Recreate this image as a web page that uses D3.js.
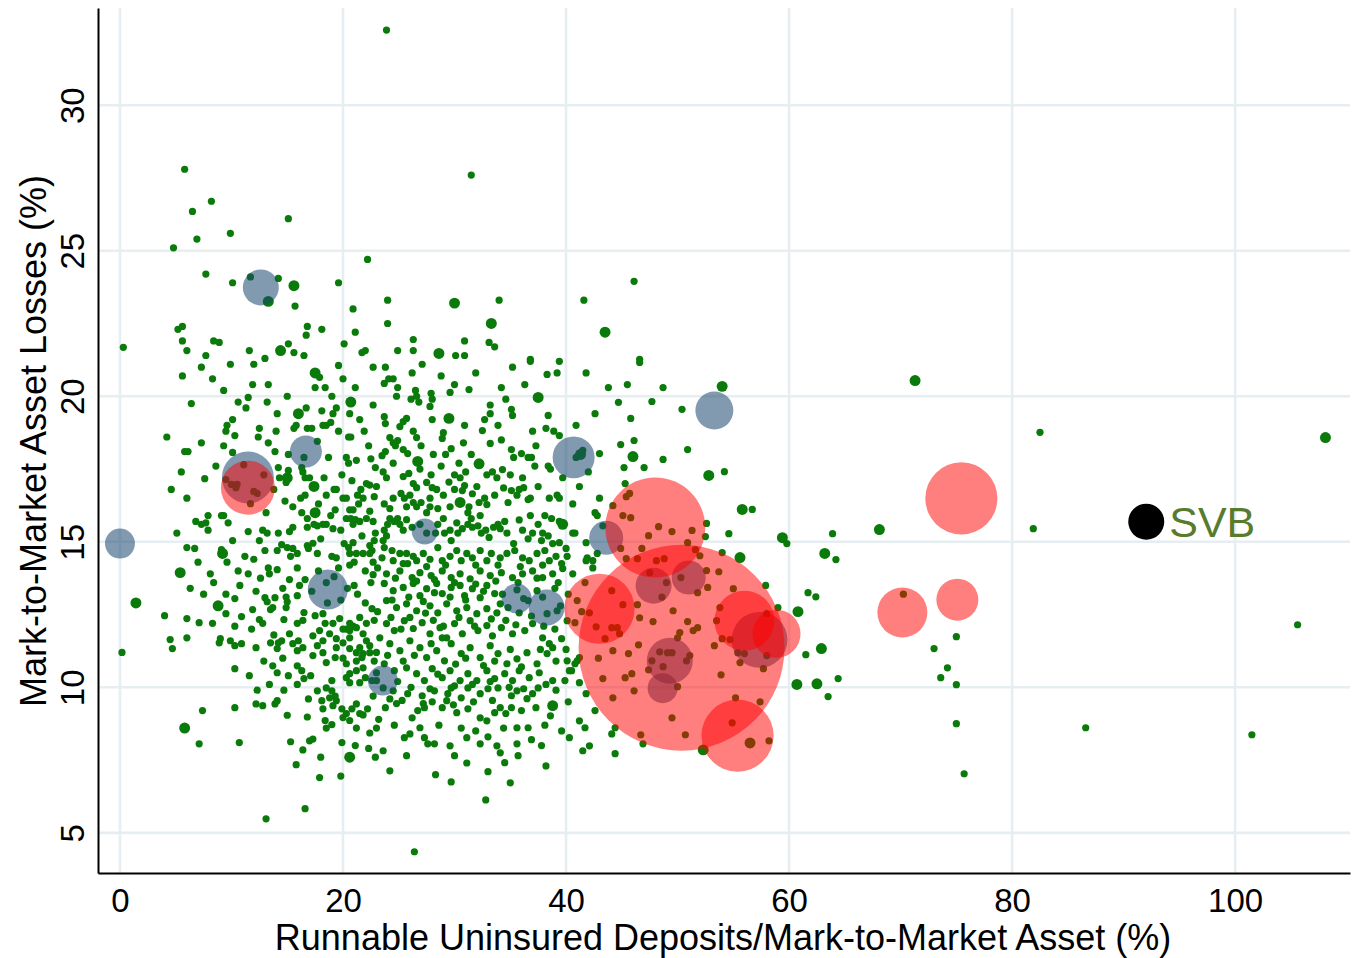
<!DOCTYPE html>
<html>
<head>
<meta charset="utf-8">
<script src="https://cdn.jsdelivr.net/npm/d3@7"></script>
<style>
  body { margin: 0; background: #fff; }
  text { font-family: "Liberation Sans", Arial, Helvetica, sans-serif; }
</style>
</head>
<body>
<svg id="chart" width="1365" height="958"></svg>
<script>
// Axis ticks
const xTicks = [0, 20, 40, 60, 80, 100];
const yTicks = [5, 10, 15, 20, 25, 30];

// Banks: [uninsured deposits / MTM assets (%), MTM asset losses (%)]
const green = [
  [5.8,27.8],[8.2,26.7],[6.5,26.35],[15.1,26.1],[6.9,25.4],[9.9,25.6],[4.8,25.1],[22.2,24.7],[7.7,24.2],[10.1,23.9],
  [11.7,24.1],[14.2,24.05],[15.7,23.1],[19.6,23.9],[20.9,23.0],[21.1,22.2],[20.1,21.8],[21.7,21.5],[22.0,21.57],[16.8,22.4],
  [16.7,22.1],[18.1,22.3],[5.2,22.3],[5.6,22.4],[5.6,21.9],[6.0,21.57],[8.4,21.9],[8.9,21.85],[7.7,21.4],[11.6,21.57],
  [13.0,21.3],[15.1,21.8],[15.6,21.5],[16.5,21.4],[23.9,32.58],[0.3,21.68],[13.1,5.48],[26.4,4.35],[32.8,6.13],
  [31.5,27.6],[24.0,23.3],[34.0,23.3],[24.0,22.5],[26.3,21.95],[30.9,21.9],[33.1,21.85],[33.6,21.7],[24.9,21.57],[26.3,21.57],
  [30.1,21.4],[30.9,21.4],[36.8,21.27],[39.4,21.2],[41.6,23.3],[46.1,23.95],[46.6,21.27],
  [7.3,21.0],[5.6,20.7],[12.0,21.1],[9.3,20.2],[13.3,20.4],[11.5,19.96],[10.6,19.8],[11.3,19.6],[15.0,20.0],[6.4,19.75],
  [14.1,19.4],[16.7,19.6],[17.9,20.65],[17.5,20.3],[18.4,20.3],[19.6,21.06],[18.1,19.5],[19.1,19.4],[19.4,19.6],[21.1,20.3],
  [20.6,19.4],[22.7,21.0],[22.7,19.7],[10.1,19.2],[9.6,19.0],[9.5,18.8],[10.3,18.65],[12.5,18.9],[12.4,18.6],[15.6,18.9],
  [16.8,18.9],[17.2,18.9],[18.2,19.0],[18.5,19.0],[18.9,19.1],[19.6,18.8],[20.5,18.6],[20.7,18.6],[17.7,18.45],[16.5,17.9],
  [4.2,18.6],[5.8,18.1],[6.1,18.1],[7.3,18.4],[9.3,18.3],[10.1,18.07],[13.3,18.4],[13.9,18.1],[15.1,18.0],[18.7,17.9],
  [20.3,17.9],[20.5,17.7],[21.2,17.8],[22.5,17.85],[22.9,17.55],[14.2,17.55],[15.1,17.45],[16.3,17.55],[16.4,17.4],[14.3,17.2],
  [16.6,17.2],[17.0,17.2],[14.9,17.04],[16.2,16.5],[16.6,16.6],[19.2,16.8],[19.4,16.8],[18.5,16.6],[20.0,16.5],[20.3,16.5],
  [21.3,16.6],[21.8,16.5],[20.6,16.1],[20.9,16.1],[21.4,16.3],[21.1,15.76],[21.5,15.7],[22.1,15.8],[22.4,16.05],[22.7,15.7],
  [22.1,17.0],[22.4,16.95],[22.8,16.55],
  [11.1,17.65],[9.5,17.14],[10.0,16.97],[10.5,16.97],[10.4,16.86],[12.0,16.73],[12.3,16.66],[11.7,16.31],
  [7.6,17.17],[6.0,16.5],[7.9,15.9],[9.1,15.9],[9.3,15.9],[6.8,15.7],[7.3,15.6],[7.7,15.65],[7.9,15.4],[9.7,15.65],
  [11.5,15.35],[12.8,15.4],[13.2,15.3],[14.8,16.4],[15.5,16.2],[16.3,16.0],[16.8,15.8],[17.4,15.6],[17.7,15.55],[18.2,15.6],
  [18.5,15.6],[19.1,15.45],[20.3,15.8],[20.7,15.8],[20.9,15.6],[15.5,15.5],[16.8,15.5],[14.2,15.3],[15.2,15.35],[6.0,14.8],
  [6.7,14.77],[9.1,14.73],[10.1,15.04],[11.2,14.5],[12.5,15.04],[14.1,14.7],[14.5,14.9],[15.0,14.8],[15.5,14.77],[15.9,14.6],
  [16.8,14.87],[16.9,14.77],[9.6,14.3],[13.3,14.1],[13.4,13.9],[14.1,14.04],[15.3,14.5],[15.9,14.1],[17.7,14.6],[19.0,14.5],
  [19.4,14.45],[20.1,14.94],[20.5,14.8],[20.9,14.97],[20.6,14.6],[21.2,14.6],[21.8,14.6],[22.4,14.87],[22.6,14.7],[22.8,15.04],
  [22.4,14.6],[22.7,14.3],[20.6,14.2],[22.0,14.0],[22.7,13.87],
  [23.8,21.0],[26.2,20.8],[24.1,20.6],[24.5,20.6],[23.7,20.44],[24.9,20.3],[26.5,20.2],[26.6,20.0],[27.9,20.1],[28.0,19.9],
  [29.6,20.13],[30.0,20.4],[31.3,20.23],[34.2,20.3],[36.3,20.4],[36.8,21.2],[38.3,20.75],[39.2,20.8],[41.8,20.8],[24.8,20.0],
  [26.1,19.9],[26.8,19.8],[27.8,19.65],[33.2,19.7],[33.2,19.4],[35.1,19.55],[35.2,19.34],[38.4,19.34],[23.8,19.06],[23.7,19.3],
  [25.4,19.13],[25.7,19.24],[25.1,18.96],[28.0,19.2],[33.9,19.0],[38.2,18.9],[38.9,18.8],[39.4,18.65],[24.2,18.58],[24.5,18.4],
  [24.7,18.3],[24.9,18.48],[26.3,18.8],[26.6,18.58],[29.0,18.75],[28.9,18.55],[32.5,18.82],[33.2,18.38],[29.7,18.2],[25.4,18.17],
  [25.8,18.03],[23.8,18.1],[23.5,17.96],[35.1,18.17],[35.3,17.9],[36.0,18.03],[36.6,17.9],[36.9,17.9],[38.4,17.6],[38.6,17.5],
  [39.7,17.2],[43.0,18.03],[24.5,17.7],[30.4,17.7],[30.0,17.3],[30.5,17.2],[32.9,17.3],[33.8,17.2],[33.4,17.4],[34.3,17.48],
  [25.4,17.24],[25.9,17.35],[23.6,17.4],[23.9,17.2],[26.3,17.0],[26.6,16.86],[27.5,17.04],[28.0,16.86],[28.4,16.8],[30.9,16.93],
  [30.7,16.76],[32.0,16.9],[35.1,16.76],[35.8,16.8],[36.2,16.86],[35.6,16.6],[38.5,16.5],[39.2,16.6],[39.4,16.5],[43.0,16.5],
  [24.5,16.5],[25.2,16.66],[23.7,16.3],[24.2,16.14],[25.5,16.5],[26.3,16.35],[25.7,16.2],[26.6,16.2],[27.8,16.5],[27.8,16.2],
  [27.5,16.0],[28.5,16.14],[29.6,16.2],[31.3,16.2],[32.2,16.35],[32.7,16.5],[32.9,16.28],[31.2,16.0],[31.5,15.8],[32.3,15.9],
  [34.8,16.35],[36.8,15.9],[38.1,15.9],[38.7,15.8],[39.4,15.7],[40.6,15.3],[40.8,15.3],[42.8,15.9],[43.3,15.55],[24.2,15.8],
  [24.6,15.7],[24.9,15.8],[25.1,15.6],[25.7,15.76],[26.2,15.5],[25.4,15.4],[23.7,15.4],[23.9,15.2],[23.6,15.04],[28.5,15.6],
  [28.3,15.3],[29.1,15.3],[29.6,15.4],[29.7,15.04],[30.3,15.3],[30.7,15.45],[31.2,15.6],[31.6,15.5],[32.1,15.55],[32.4,15.3],
  [32.8,15.4],[33.5,15.5],[33.9,15.6],[34.1,15.45],[34.7,15.3],[35.3,14.94],[36.1,15.4],[37.0,15.3],[37.8,15.04],[37.9,15.3],
  [38.4,15.2],[38.8,14.94],[39.4,14.97],[40.0,14.77],[41.8,14.97],[41.9,14.45],[42.4,14.35],[42.8,14.6],[23.7,14.8],[24.4,14.7],
  [23.5,14.45],[24.5,14.35],[25.1,14.6],[25.7,14.6],[26.3,14.5],[25.8,14.25],[26.6,14.35],[27.2,14.6],[27.8,14.4],[28.5,14.8],
  [28.9,14.35],[29.6,14.5],[30.2,14.7],[30.6,14.35],[31.1,14.6],[31.6,14.45],[32.3,14.7],[32.9,14.35],[33.3,14.6],[34.1,14.45],
  [34.7,14.6],[35.4,14.7],[36.1,14.45],[36.7,14.35],[37.4,14.6],[38.1,14.7],[38.5,14.35],[39.6,14.25],[40.1,14.5],[23.9,13.9],
  [25.1,14.0],[26.2,13.77],[26.9,13.94],[27.9,13.84],[28.9,14.0],[29.7,13.77],[30.5,13.9],[31.4,13.73],[32.3,14.0],[33.2,13.84],
  [34.2,13.94],[35.2,13.77],[36.1,13.9],[37.0,14.0],[37.9,13.77],[38.8,13.9],[39.7,14.08],[40.6,13.9],[41.8,14.35],[42.4,14.1],
  [41.2,18.03],[41.5,18.14],[40.9,17.9],
  [44.7,19.79],[44.9,18.34],[46.1,18.48],[45.2,17.55],[47.0,17.55],[45.3,17.0],[45.4,16.55],[45.7,16.66],[44.2,16.24],[45.1,15.9],
  [45.8,15.83],[48.3,15.52],[49.5,15.35],[47.4,15.21],[44.9,14.77],[46.8,14.77],[51.3,15.39],[50.9,14.97],[51.6,14.73],[52.0,14.52],
  [52.6,14.01],[53.7,13.97],[45.4,14.42],[46.4,14.42],[48.8,14.42],[48.1,14.35],[46.6,21.16],[45.5,20.4],[48.7,20.3],[47.7,19.82],
  [50.4,19.55],[45.8,19.24],[50.9,18.17],[48.7,17.83],[54.2,17.41],[56.7,16.11],[52.6,15.63],[54.6,15.28],[59.8,14.94],[63.9,15.28],
  [64.2,14.39],[54.0,14.63],[52.5,15.18],
  [61.7,13.25],[62.4,13.11],[61.5,11.12],[64.4,10.3],[63.5,9.68],[59.0,12.74],[44.4,8.61],[44.1,8.4],[46.9,8.06],[44.4,7.72],
  [45.1,12.84],[46.4,12.84],[46.6,12.39],[47.8,12.26],[49.6,12.63],[50.9,12.26],[51.4,11.95],[51.8,12.05],[50.0,11.7],[50.2,11.88],
  [46.5,11.46],[45.6,11.16],[44.2,11.26],[48.4,11.22],[49.1,11.19],[49.5,11.19],[50.8,10.91],[51.1,11.09],[47.7,10.91],[47.4,10.6],
  [48.7,10.71],[45.9,10.47],[45.3,10.33],[50.0,10.02],[46.1,9.88],[44.2,9.64],[53.9,10.43],[53.3,11.43],[54.0,11.67],[54.7,11.64],
  [55.4,11.19],[56.0,11.16],[55.6,10.85],[57.7,10.64],[58.0,11.09],[55.2,9.64],[57.4,9.5],[49.5,8.95],[50.7,8.37],[46.7,8.37],
  [54.9,8.78],[58.2,8.16],[53.8,12.74],[53.5,12.29],[55.0,13.39],[52.7,13.43],[57.9,13.5],[58.0,12.53],[44.1,12.05],[44.6,12.05],
  [44.8,11.84],[41.0,12.98],[42.1,12.56],[42.7,12.08],[44.1,13.32],[41.7,13.6],[40.8,12.22],[43.5,11.67],[47.5,13.94],[49.0,13.6],
  [50.3,13.77],[51.8,13.25],[48.6,13.1],
  [9.5,13.2],[10.3,13.05],[10.75,13.5],[12.2,13.3],[13.0,13.08],[13.2,12.94],[13.9,13.08],[14.9,13.1],[15.0,12.94],[15.9,13.15],
  [13.5,12.67],[13.7,12.74],[14.9,12.74],[4.0,12.46],[6.0,12.36],[7.1,12.22],[8.3,12.2],[9.5,12.53],[10.9,12.43],[11.9,12.67],
  [12.5,12.33],[12.8,12.2],[14.7,12.33],[15.9,12.2],[16.4,12.3],[16.5,12.57],[17.5,12.46],[18.2,12.53],[18.4,12.2],[19.1,12.2],
  [19.7,12.36],[20.6,12.2],[20.9,12.1],[20.3,12.0],[21.5,12.4],[22.1,12.2],[22.8,12.3],[4.5,11.64],[4.7,11.33],[6.0,11.7],
  [9.0,11.67],[8.9,11.53],[9.9,11.6],[10.3,11.43],[10.9,11.5],[12.2,11.36],[13.5,11.53],[14.1,11.33],[14.2,11.53],[14.5,11.6],
  [14.6,11.0],[15.2,11.84],[15.5,11.5],[15.9,11.26],[16.4,11.36],[16.0,11.6],[10.3,10.64],[13.7,10.74],[14.1,10.5],[15.9,10.74],
  [16.3,10.57],[16.5,10.3],[15.9,10.1],[17.3,11.77],[17.7,11.43],[18.2,11.19],[17.3,11.09],[18.5,10.85],[19.4,11.36],[20.0,11.0],
  [20.6,11.33],[21.2,10.9],[21.8,11.16],[22.4,11.43],[22.8,10.9],[21.8,10.67],[21.2,10.57],[20.3,10.33],[20.6,10.16],[21.5,10.16],
  [19.0,10.23],[19.0,9.88],[19.3,9.7],[18.8,9.64],[19.4,9.54],[19.1,9.37],[18.5,9.98],[17.7,9.88],[18.1,9.54],[18.2,9.26],
  [19.9,9.26],[20.3,9.1],[20.8,9.26],[21.2,9.43],[21.5,9.1],[22.2,9.26],[22.7,9.7],[23.0,10.23],[10.3,9.3],[12.2,9.43],
  [12.8,9.37],[13.9,9.43],[14.1,9.54],[7.4,9.2],[7.1,8.06],[10.7,8.1],[15.0,9.04],[16.8,8.98],[15.3,8.13],[17.0,8.16],
  [17.3,8.22],[16.4,7.85],[15.8,7.34],[18.4,8.86],[18.5,8.6],[19.0,8.72],[20.0,8.96],[20.6,8.86],[21.8,9.05],[22.4,8.43],
  [23.0,8.6],[21.2,8.6],[19.9,8.1],[19.8,6.95],[22.9,7.6],[16.6,5.83],[20.0,12.0],[20.6,11.95],[21.2,12.05],[21.8,11.84],
  [22.1,11.6],[21.5,11.36],[22.4,11.19],[21.7,11.02],[20.6,11.7],[20.0,11.53],[19.4,11.67],[18.8,11.84],[17.9,11.95],[18.2,11.6],
  [19.3,11.02],[20.3,10.81],[21.2,11.19],[20.6,10.47],[22.0,10.33],[22.6,10.23],[23.0,10.5],
  [23.7,13.57],[24.5,13.32],[25.4,13.43],[26.3,13.57],[26.9,13.15],[27.5,13.39],[28.4,13.57],[28.9,13.22],[29.7,13.43],[30.5,13.5],
  [30.9,13.15],[31.6,13.39],[32.3,13.08],[32.9,13.5],[33.6,13.22],[34.1,12.87],[23.9,12.98],[24.8,12.74],[25.7,12.87],[26.6,12.63],
  [27.8,12.8],[28.5,12.56],[29.3,12.87],[30.2,12.63],[31.1,12.74],[32.0,12.53],[32.9,12.7],[33.8,12.56],[34.8,12.74],[35.8,12.56],
  [36.6,12.98],[37.4,13.32],[38.3,12.53],[39.2,12.63],[40.1,12.29],
  [23.9,12.19],[24.6,11.95],[25.5,12.29],[26.3,12.02],[27.1,12.22],[27.8,11.84],[28.7,12.05],[29.3,11.7],[30.0,12.19],[30.7,11.84],
  [31.4,12.29],[32.1,11.95],[32.9,12.12],[33.4,11.77],[34.2,12.05],[35.2,11.84],[36.3,11.95],[37.0,12.19],[37.9,11.7],[38.8,11.36],
  [39.6,11.67],[24.2,11.5],[25.1,11.26],[26.0,11.6],[26.9,11.36],[27.5,11.02],[28.4,11.26],[29.1,10.91],[29.7,11.5],[30.6,11.16],
  [31.4,11.36],[32.3,11.02],[33.2,11.43],[33.9,11.16],[34.7,10.81],[35.6,10.98],[36.5,11.19],[37.4,10.81],[38.3,11.16],[40.8,10.81],
  [41.2,11.02],[23.7,10.81],[24.6,10.57],[25.7,10.67],[26.6,10.47],[27.3,10.23],[28.0,10.64],[28.9,10.33],[29.6,10.57],[30.5,10.23],
  [31.2,10.47],[32.0,10.23],[32.9,10.57],[33.6,10.3],[34.5,10.47],[35.2,10.23],[35.8,10.57],[36.7,10.33],[38.8,10.23],[39.9,10.23],
  [40.3,10.57],[23.6,9.98],[24.5,9.88],[25.8,9.78],[27.1,9.71],[27.2,9.44],[28.2,9.88],[29.4,9.78],[29.7,9.98],[30.6,9.64],
  [31.2,9.98],[32.3,9.78],[33.0,9.95],[33.9,9.98],[35.1,9.71],[35.6,9.88],[36.5,9.61],[37.0,9.78],[37.5,9.98],[38.6,9.02],
  [23.8,9.3],[24.8,9.44],[26.2,8.95],[27.3,9.3],[28.9,9.3],[29.3,9.54],[30.2,9.13],[31.2,9.26],[32.3,8.95],[32.9,8.85],
  [33.6,9.13],[34.1,9.3],[35.1,9.3],[35.6,8.61],[36.6,8.61],[26.9,8.61],[27.3,8.27],[27.6,8.06],[28.2,8.06],[29.6,7.99],
  [30.0,7.65],[31.1,8.27],[32.3,8.06],[33.8,7.99],[34.1,7.75],[35.6,8.06],[35.7,7.65],[25.5,8.27],[25.7,7.65],[24.2,7.13],
  [29.7,6.75],[35.0,6.72],[23.6,7.82],[34.5,7.41],[40.3,8.27],[41.2,8.85],[41.7,8.61],[41.5,7.82],[42.1,7.99],[40.5,10.57],
  [40.1,10.91],[41.0,10.91],[38.5,11.5],[41.8,9.78],[41.2,10.16],
  [82.5,18.76],[81.9,15.45],[70.25,13.2],[105.6,12.15],[75.0,11.74],[73.0,11.33],[74.2,10.67],[73.6,10.33],[75.0,10.09],[75.0,8.75],
  [75.7,7.03],[86.6,8.61],[101.5,8.37],[0.18,11.2],
  [21.3,13.2],[22.5,13.6],[23.1,12.6],[22.0,12.9],[21.0,13.5],[19.8,13.0],[18.6,12.9],[17.2,13.3],[16.6,13.7],[17.8,14.0],
  [19.2,13.8],[20.4,13.4],[23.3,11.7],[23.0,11.2],[22.6,12.7],[24.3,12.4],[25.2,12.0],[26.0,12.4],[27.4,12.55],[28.1,12.3],
  [29.0,12.1],[30.4,12.4],[31.8,12.1],[33.3,12.35],[34.6,12.3],[35.5,12.15],[36.9,12.45],[38.0,12.1],[39.0,12.0],[24.0,11.1],
  [25.4,10.9],[26.4,11.1],[27.9,11.5],[28.9,11.7],[30.1,10.8],[31.0,11.0],[32.6,10.75],[33.6,10.9],[35.0,11.3],[36.0,10.7],
  [37.7,11.3],[39.1,10.9],[40.0,11.3],[24.9,10.2],[26.1,10.0],[27.8,9.95],[28.5,10.45],[30.0,10.05],[31.6,10.1],[33.2,10.2],
  [34.9,10.0],[36.2,9.95],[37.6,10.5],[38.2,10.1],[24.2,9.6],[25.3,9.55],[26.7,9.2],[28.0,9.5],[29.9,9.4],[31.7,9.5],
  [33.4,9.55],[34.6,9.1],[36.0,9.2],[37.3,9.3],[38.1,8.7],[23.2,8.9],[24.6,8.7],[26.0,8.4],[28.6,8.7],[30.6,8.6],
  [31.9,8.5],[33.0,8.3],[34.4,8.6],[36.9,8.2],[37.8,8.0],[39.6,8.5],[24.4,13.0],[25.9,13.1],[27.2,12.95],[28.2,13.25],
  [29.6,13.1],[31.0,13.0],[32.6,13.3],[34.3,13.2],[35.6,13.35],[36.2,13.05],[37.9,13.1],[39.0,13.4],[40.2,13.2],[24.7,13.75],
  [26.6,13.65],[28.2,13.7],[30.0,13.6],[31.9,13.55],[33.7,13.65],[35.7,13.6],[37.4,13.75],[39.3,13.6],[25.4,14.25],[27.5,14.15],
  [29.2,14.2],[31.9,14.2],[33.9,14.2],[35.9,14.15],[37.9,14.2],[39.1,14.5],[24.0,15.6],[26.9,15.6],[27.5,15.3],[29.0,15.8],
  [30.2,15.65],[33.1,15.15],[34.5,15.7],[35.8,15.75],[36.6,15.1],[37.5,15.6],[26.0,16.6],[27.0,16.35],[29.0,16.6],[30.0,16.8],
  [31.6,16.65],[33.6,16.6],[34.4,16.85],[36.8,16.5],[37.5,16.9],[26.9,17.5],[27.9,17.3],[28.8,17.6],[29.5,17.05],[31.0,17.4],
  [35.0,17.3],[36.1,17.2],[37.2,17.6],[27.0,18.3],[28.1,18.0],[30.8,18.4],[31.5,18.0],[34.2,18.5],[37.3,18.3],[21.6,16.8],
  [23.0,16.9],[20.8,17.1],[19.9,17.3],[18.3,17.2],[17.8,16.3],[19.3,16.1],[18.9,15.9],[19.8,15.4],[21.7,15.2],[22.9,15.3],
  [18.0,15.1],[17.3,14.95],[19.6,14.1],[21.0,14.3],[23.1,14.1],[18.5,13.6],[16.1,13.5],[15.2,13.7],[14.6,13.4],[12.6,13.75],
  [11.5,13.9],[10.6,14.0],[8.4,13.6],[7.5,13.2],[12.0,14.4],[13.0,14.7],[11.8,12.0],[10.3,12.1],[13.8,11.8],[12.9,10.9],
  [11.6,10.4],[12.3,9.9],[13.4,10.1],[15.1,10.4],[17.1,10.4],[16.9,9.6],[14.7,9.9],[8.1,13.9],[7.0,14.3],[6.3,13.4],
  [5.1,15.3],[4.6,16.8],[5.5,17.4],[8.6,17.6],[13.1,16.0],[13.8,16.8],[12.9,17.3],[14.0,18.8],[15.8,19.0],[13.2,19.8],
  [11.9,20.4],[8.3,20.6],[9.9,21.1],[19.0,20.0],[21.9,18.8],[22.3,18.3],[21.5,19.2],[20.0,20.6],[40.6,16.3],[41.2,16.9],
  [42.0,17.4],[40.9,19.0],[42.6,19.4],[43.8,20.3],[42.6,16.0],[41.4,12.6],[42.9,11.0],[40.2,9.5],[39.1,9.9],[42.6,9.2],
  [43.3,10.3],[39.5,12.8],[36.6,16.45],[27.1,21.1],[28.8,20.7],[31.9,20.8],[35.2,21.0],[32.7,19.2],[34.6,19.9],[30.9,19.0],
  [29.2,18.0],[37.0,18.8],[31.1,7.4],[28.3,7.0],[33.0,7.1],[38.2,7.3],[22.3,7.9],[21.1,8.0],[18.0,7.6],[17.9,6.9]
];

// Somewhat larger banks in the same group
const greenLarge = [
  [15.6,23.8],[13.3,23.26],[14.4,21.57],[30.0,23.2],[33.3,22.5],[28.6,21.47],[43.5,22.2],[16.0,19.4],[17.5,20.8],[20.7,19.8],
  [15.0,17.2],[17.4,16.9],[17.5,16.0],[9.2,14.6],[5.4,13.94],[37.5,19.96],[29.5,19.24],[26.7,17.76],[32.2,17.68],[30.5,16.35],
  [39.7,15.6],[41.3,18.0],[8.8,12.8],[5.8,8.6],[20.6,7.6],[38.8,9.37],[46.0,17.93],[54.0,20.34],[52.8,17.28],[55.8,16.11],
  [59.4,15.14],[63.2,14.6],[55.6,14.46],[60.8,12.6],[62.9,11.33],[60.7,10.1],[62.5,10.12],[52.3,7.85],[56.5,8.09],[71.3,20.54],
  [108.1,18.58],[68.1,15.42],[1.43,12.9]
];

// Large banks: [x, y, relative size]
const grayBanks = [
  [0.0,14.94,2.25],[12.63,23.74,3.24],[16.67,18.10,2.56],[11.47,17.21,6.76],[18.64,13.36,4.0],[27.33,15.35,1.69],
  [23.57,10.23,2.25],[40.68,17.9,4.4],[53.3,19.51,3.6],[43.6,15.14,2.9],[35.57,13.05,2.25],[38.26,12.74,3.24],
  [47.85,13.49,3.24],[51.0,13.77,2.9],[49.3,10.91,5.3],[48.66,9.97,2.25],[57.35,11.63,7.8]
];

// Failed / distressed banks: [x, y, relative size]
const redBanks = [
  [11.47,16.86,7.3],[48.0,15.49,25.0],[50.36,11.36,106.0],[43.0,12.7,12.3],[56.0,12.29,9.0],[58.87,11.84,5.8],
  [55.38,8.34,13.0],[75.45,16.49,13.0],[70.16,12.57,6.25],[75.09,13.01,4.4]
];

const svb = { label: "SVB", x: 92.03, y: 15.69, size: 3.24 };

const svg = d3.select("#chart");
const x = d3.scaleLinear().domain([-1.97, 110.3]).range([98, 1350]);
const y = d3.scaleLinear().domain([3.62, 33.34]).range([873, 8]);
const r = d3.scaleSqrt().domain([0, 1]).range([0, 10]);
const greenSize = 0.13, greenLargeSize = 0.3;

// Grid
const grid = svg.append("g").attr("stroke", "#e6eef2").attr("stroke-width", 2.6);
grid.selectAll("line.h").data(yTicks).join("line")
  .attr("x1", 98).attr("x2", 1350).attr("y1", d => y(d)).attr("y2", d => y(d));
grid.selectAll("line.v").data(xTicks).join("line")
  .attr("y1", 8).attr("y2", 873).attr("x1", d => x(d)).attr("x2", d => x(d));

// Points
const pts = svg.append("g");
pts.selectAll("circle.g").data(green).join("circle")
  .attr("cx", d => x(d[0])).attr("cy", d => y(d[1])).attr("r", r(greenSize)).attr("fill", "#0a7a0a");
pts.selectAll("circle.gl").data(greenLarge).join("circle")
  .attr("cx", d => x(d[0])).attr("cy", d => y(d[1])).attr("r", r(greenLargeSize)).attr("fill", "#0a7a0a");
pts.selectAll("circle.b").data(grayBanks).join("circle")
  .attr("cx", d => x(d[0])).attr("cy", d => y(d[1])).attr("r", d => r(d[2]))
  .attr("fill", "#1a476f").attr("fill-opacity", 0.55);
pts.selectAll("circle.r").data(redBanks).join("circle")
  .attr("cx", d => x(d[0])).attr("cy", d => y(d[1])).attr("r", d => r(d[2]))
  .attr("fill", "#ff0000").attr("fill-opacity", 0.5);
pts.append("circle").attr("cx", x(svb.x)).attr("cy", y(svb.y)).attr("r", r(svb.size)).attr("fill", "#000");
svg.append("text").attr("x", x(svb.x) + 23).attr("y", y(svb.y) + 15)
  .attr("font-size", 43).attr("fill", "#587b2c").text(svb.label);

// Axes
const xAxis = svg.append("g").attr("transform", "translate(0,873)")
  .call(d3.axisBottom(x).tickValues(xTicks).tickSize(0).tickSizeOuter(0));
xAxis.select(".domain").attr("stroke", "#000").attr("stroke-width", 2);
xAxis.selectAll("text").attr("y", 39).attr("dy", null).attr("font-size", 33)
  .attr("font-family", "Liberation Sans, Arial, sans-serif").attr("fill", "#000");

const yAxis = svg.append("g").attr("transform", "translate(98,0)")
  .call(d3.axisLeft(y).tickValues(yTicks).tickSize(0).tickSizeOuter(0));
yAxis.select(".domain").attr("stroke", "#000").attr("stroke-width", 2);
yAxis.selectAll("text").attr("x", null).attr("dy", null)
  .attr("transform", "translate(-14,0) rotate(-90)").attr("text-anchor", "middle")
  .attr("font-size", 33).attr("font-family", "Liberation Sans, Arial, sans-serif").attr("fill", "#000");

// Titles
svg.append("text").attr("x", 723).attr("y", 950).attr("text-anchor", "middle")
  .attr("font-size", 36).attr("fill", "#000")
  .text("Runnable Uninsured Deposits/Mark-to-Market Asset (%)");
svg.append("text").attr("transform", "translate(46,441) rotate(-90)").attr("text-anchor", "middle")
  .attr("font-size", 36).attr("fill", "#000")
  .text("Mark-to-Market Asset Losses (%)");
</script>
</body>
</html>
